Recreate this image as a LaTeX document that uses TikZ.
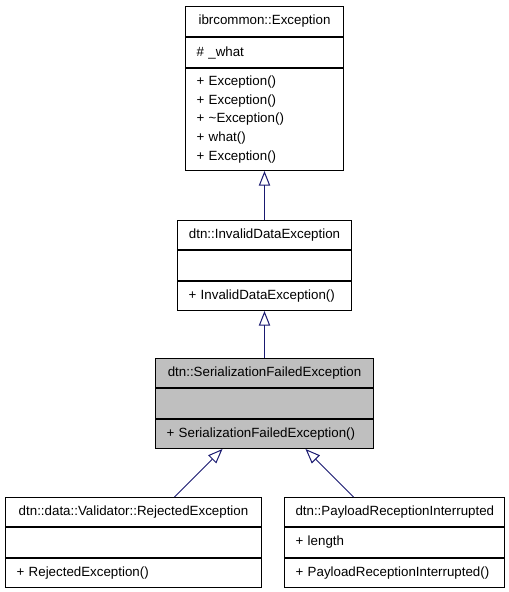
\documentclass[tikz,border=0pt]{standalone}
\usepackage{fontspec}
\setmainfont{Liberation Sans}
\usetikzlibrary{arrows.meta, positioning}
\definecolor{edgeblue}{RGB}{25,25,112}
\definecolor{hlgray}{RGB}{191,191,191}

\begin{document}
\begin{tikzpicture}[x=0.75pt, y=-0.75pt,
  sect/.style={draw=black, line width=0.75pt, inner xsep=8.25pt, inner ysep=0pt,
    minimum height=22pt, align=left, font=\fontsize{10}{13.9}\selectfont},
  ttl/.style={sect, align=center},
  inherit/.style={edgeblue, line width=0.75pt, -{Triangle[open, length=11pt, width=8.5pt]}}]
  \useasboundingbox (0,0) rectangle (509,592);
  % ibrcommon::Exception
  \node[ttl, text width=102pt, minimum height=22.5pt, anchor=north west] (exc) at (185,6) {ibrcommon::Exception};
  \node[sect, text width=102pt, minimum height=22.5pt, below=0pt of exc] (excattr) {\# \_what};
  \node[sect, text width=102pt, minimum height=76.5pt, below=0pt of excattr] (excops)
    {+ Exception()\\+ Exception()\\+ \char`\~Exception()\\+ what()\\+ Exception()};
  % dtn::InvalidDataException
  \node[ttl, text width=114pt, anchor=north west] (inv) at (177,220) {dtn::InvalidDataException};
  \node[sect, text width=114pt, below=0pt of inv] (invattr) {};
  \node[sect, text width=114pt, below=0pt of invattr] (invops) {+ InvalidDataException()};
  % dtn::SerializationFailedException
  \node[ttl, fill=hlgray, text width=147pt, anchor=north west] (sfe) at (155,358) {dtn::SerializationFailedException};
  \node[sect, fill=hlgray, text width=147pt, below=0pt of sfe] (sfeattr) {};
  \node[sect, fill=hlgray, text width=147pt, below=0pt of sfeattr] (sfeops) {+ SerializationFailedException()};
  % dtn::data::Validator::RejectedException
  \node[ttl, text width=175.5pt, anchor=north west] (rej) at (5,497) {dtn::data::Validator::RejectedException};
  \node[sect, text width=175.5pt, below=0pt of rej] (rejattr) {};
  \node[sect, text width=175.5pt, below=0pt of rejattr] (rejops) {+ RejectedException()};
  % dtn::PayloadReceptionInterrupted
  \node[ttl, text width=148.5pt, anchor=north west] (pay) at (284,497) {dtn::PayloadReceptionInterrupted};
  \node[sect, text width=148.5pt, below=0pt of pay] (payattr) {+ length};
  \node[sect, text width=148.5pt, below=0pt of payattr] (payops) {+ PayloadReceptionInterrupted()};
  % inheritance
  \draw[inherit] (inv.north) -- (excops.south);
  \draw[inherit] (sfe.north) -- (invops.south);
  \draw[inherit] ([xshift=30.75pt]rej.north) -- ([xshift=-31.5pt]sfeops.south);
  \draw[inherit] ([xshift=-30.75pt]pay.north) -- ([xshift=30.75pt]sfeops.south);
\end{tikzpicture}
\end{document}
